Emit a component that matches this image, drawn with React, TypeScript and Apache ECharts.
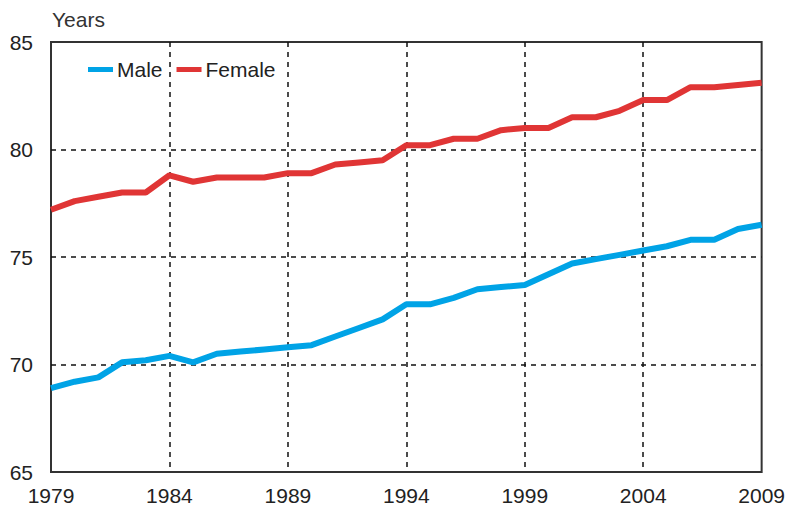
import React, { useEffect, useRef } from "react";
import * as echarts from "echarts";

const years = [
  "1979", "1980", "1981", "1982", "1983", "1984", "1985", "1986", "1987", "1988",
  "1989", "1990", "1991", "1992", "1993", "1994", "1995", "1996", "1997", "1998",
  "1999", "2000", "2001", "2002", "2003", "2004", "2005", "2006", "2007", "2008", "2009",
];
const male = [
  68.9, 69.2, 69.4, 70.1, 70.2, 70.4, 70.1, 70.5, 70.6, 70.7,
  70.8, 70.9, 71.3, 71.7, 72.1, 72.8, 72.8, 73.1, 73.5, 73.6,
  73.7, 74.2, 74.7, 74.9, 75.1, 75.3, 75.5, 75.8, 75.8, 76.3, 76.5,
];
const female = [
  77.2, 77.6, 77.8, 78.0, 78.0, 78.8, 78.5, 78.7, 78.7, 78.7,
  78.9, 78.9, 79.3, 79.4, 79.5, 80.2, 80.2, 80.5, 80.5, 80.9,
  81.0, 81.0, 81.5, 81.5, 81.8, 82.3, 82.3, 82.9, 82.9, 83.0, 83.1,
];
const seriesNames = ["Male", "Female"];
const unitLabel = "Years";

const FONT = "Arial, 'Liberation Sans', sans-serif";

export default function App() {
  const ref = useRef<HTMLDivElement>(null);
  useEffect(() => {
    if (!ref.current) return;
    const chart = echarts.init(ref.current, null, { renderer: "svg" });
    chart.setOption({
      animation: false,
      backgroundColor: "#ffffff",
      textStyle: { fontFamily: FONT },
      graphic: [
        {
          type: "text",
          left: 52,
          top: 9,
          style: { text: unitLabel, fontSize: 21, fill: "#333", fontFamily: FONT },
        },
      ],
      legend: {
        left: 88,
        top: 59,
        padding: 0,
        itemWidth: 25,
        itemHeight: 5,
        itemGap: 14,
        icon: "rect",
        textStyle: { fontSize: 21, color: "#222", fontFamily: FONT, padding: [0, 0, 0, -1] },
        data: seriesNames,
      },
      grid: {
        left: 51,
        right: 24,
        top: 42,
        bottom: 35,
        show: true,
        borderColor: "#333",
        borderWidth: 2,
        backgroundColor: "transparent",
      },
      xAxis: {
        type: "category",
        data: years,
        boundaryGap: false,
        axisLine: { show: false },
        axisTick: { show: false },
        axisLabel: {
          interval: 4,
          fontSize: 21,
          color: "#222",
          margin: 13,
          fontFamily: FONT,
          showMaxLabel: true,
        },
        splitLine: {
          show: true,
          interval: 4,
          showMinLine: false,
          showMaxLine: false,
          lineStyle: { color: "#111", type: [5, 5], width: 1.5 },
        },
      },
      yAxis: {
        type: "value",
        min: 65,
        max: 85,
        interval: 5,
        axisLine: { show: false },
        axisTick: { show: false },
        axisLabel: { fontSize: 21, color: "#222", margin: 18, fontFamily: FONT },
        splitLine: {
          show: true,
          showMinLine: false,
          showMaxLine: false,
          lineStyle: { color: "#111", type: [5, 5], width: 1.5 },
        },
      },
      series: [
        {
          name: seriesNames[0],
          type: "line",
          data: male,
          symbol: "none",
          lineStyle: { color: "#00a3e6", width: 6 },
          itemStyle: { color: "#00a3e6" },
        },
        {
          name: seriesNames[1],
          type: "line",
          data: female,
          symbol: "none",
          lineStyle: { color: "#e03535", width: 6 },
          itemStyle: { color: "#e03535" },
        },
      ],
    });
    return () => chart.dispose();
  }, []);
  return (
    <div
      ref={ref}
      style={{ position: "absolute", left: 0, top: 0, width: 788, height: 507 }}
    />
  );
}
